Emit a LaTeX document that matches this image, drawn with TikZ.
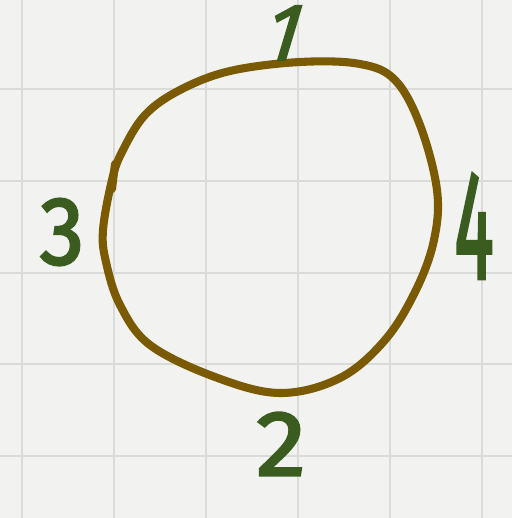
\documentclass[tikz,border=0pt]{standalone}
\usepackage{fontspec}
\usepackage{xcolor}
\usepackage{tikz}
\newfontfamily\handfont[FakeBold=2.5]{Fira Sans}
\definecolor{paperbg}{RGB}{242,242,240}
\definecolor{gridgray}{RGB}{218,218,216}
\definecolor{loopbrown}{RGB}{122,90,2}
\definecolor{digitgreen}{RGB}{58,92,30}

\begin{document}
\begin{tikzpicture}[
  x=0.02cm, y=-0.02cm,
  gridline/.style={draw=gridgray, line width=1.1pt},
  loopline/.style={draw=loopbrown, line width=4.6pt, line cap=round, line join=round},
  digit/.style={text=digitgreen, inner sep=0pt, font=\handfont\fontsize{44}{44}\selectfont}
]
% paper with grid
\fill[paperbg] (0,0) rectangle (512,518);
\useasboundingbox (0,0) rectangle (512,518);
\foreach \gx in {22,114,206,298,390,482}
  \draw[gridline] (\gx,0) -- (\gx,518);
\foreach \gy in {-3,89,181,273,364,456}
  \draw[gridline] (0,\gy) -- (512,\gy);

% hand drawn loop
\draw[loopline] plot[smooth cycle, tension=0.6] coordinates {
  (103,230) (112,180) (122,152) (145,115) (180,90) (230,71) (300,62)
  (360,64) (395,80) (420,125) (437,190) (434,240) (416,290) (385,340)
  (340,378) (280,393) (215,377) (150,345) (120,305) (106,262)};
\draw[loopline] (115,164) -- (112,189);

% labels
\node[digit, xslant=0.3, yscale=1.05] (one) at (285,33) {1};
\node[digit, yscale=1.25, xscale=1.15] (three) at (62,232) {3};
\node[digit, xscale=0.95, yscale=2.0] (four) at (474,226) {4};
\node[digit, yscale=1.2, xscale=1.3] (two) at (281,444) {2};
\end{tikzpicture}
\end{document}
